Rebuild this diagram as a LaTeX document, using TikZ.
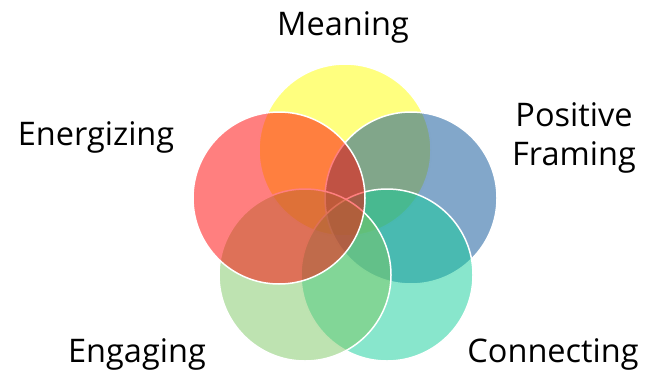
\documentclass[tikz,border=0pt]{standalone}
\usepackage{fontspec}
\setmainfont{Open Sans}
\begin{document}
\begin{tikzpicture}[x=1pt,y=-1pt,
  petal/.style={circle,minimum size=172pt,inner sep=0pt,draw=white,line width=1.5pt,fill opacity=0.5,draw opacity=1},
  lbl/.style={font=\fontsize{32.5}{39}\selectfont,text=black,align=center}]
\definecolor{cYellow}{RGB}{255,255,0}
\definecolor{cBlue}{RGB}{5,79,149}
\definecolor{cTeal}{RGB}{17,205,153}
\definecolor{cGreen}{RGB}{125,199,99}
\definecolor{cRed}{RGB}{255,0,0}
\useasboundingbox (0,0) rectangle (647,375);
% five overlapping circles, drawn back to front
\node[petal,fill=cYellow] (meaning) at (345,150) {};
\node[petal,fill=cBlue] (framing) at (411,198) {};
\node[petal,fill=cTeal] (connecting) at (387,275) {};
\node[petal,fill=cGreen] (engaging) at (305,275) {};
\node[petal,fill=cRed] (energizing) at (279,198) {};
% labels
\node[lbl] (tMeaning) at (343,27) {Meaning};
\node[lbl] (tEnergizing) at (96,137) {Energizing};
\node[lbl] (tFraming) at (574,138) {Positive\\Framing};
\node[lbl] (tEngaging) at (137,354) {Engaging};
\node[lbl] (tConnecting) at (553,354) {Connecting};
\end{tikzpicture}
\end{document}
